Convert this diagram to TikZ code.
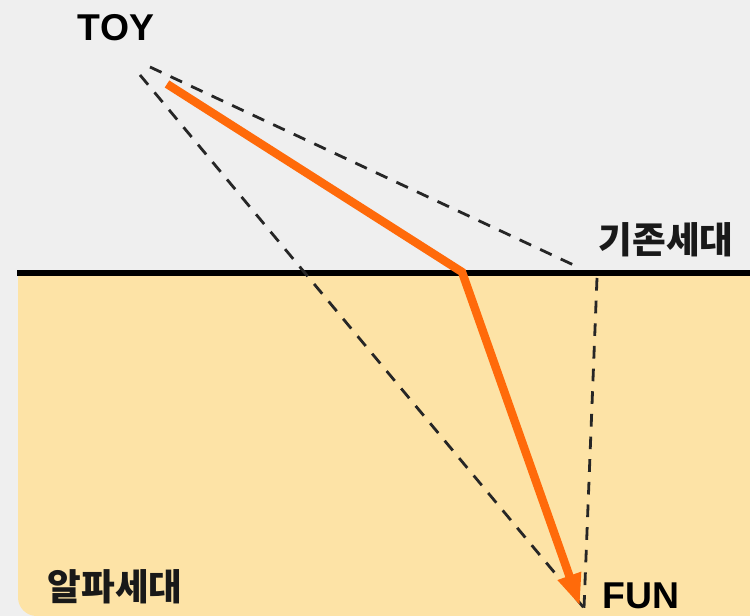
\documentclass[tikz,border=0pt]{standalone}
\usepackage{fontspec}
\setmainfont{Liberation Sans}
\newfontfamily\krfont{Noto Sans CJK KR}
\usetikzlibrary{arrows.meta}
\definecolor{bggray}{HTML}{EFEFEF}
\definecolor{zoneyellow}{HTML}{FDE3A6}
\definecolor{arroworange}{HTML}{FF6A0A}
\tikzset{
  lbl/.style={font=\bfseries\fontsize{28}{30}\selectfont, text=black, inner sep=0pt},
  krlbl/.style={font=\krfont\bfseries\fontsize{27.5}{29}\selectfont, text=black!90, inner sep=0pt},
  guide/.style={draw=black!85, line width=2.1pt, dash pattern=on 9.5pt off 7.5pt},
  path/.style={draw=arroworange, line width=6.3pt, line join=miter},
}
\begin{document}
\begin{tikzpicture}[x=0.75pt,y=-0.75pt]
\useasboundingbox (0,0) rectangle (750,616);
\fill[bggray] (0,0) rectangle (750,616);
\fill[zoneyellow, rounded corners=14] (18,273) -- (18,616) -- (750,616) -- (750,273) -- cycle;
\fill[zoneyellow] (18,273) rectangle (750,560);
\fill[zoneyellow] (700,273) rectangle (750,616);
\draw[line width=5.2pt] (17,273) -- (750,273);

\coordinate (apexA) at (150,67);
\coordinate (apexB) at (140,75);
\coordinate (rimL) at (580,268);
\coordinate (rimR) at (597,278);
\coordinate (bottom) at (584,608);
\coordinate (start) at (167,84);
\coordinate (bend) at (462,272);
\coordinate (tip) at (580,606);

\draw[guide] (apexA) -- (rimL);
\draw[guide] (rimR) -- (bottom);
\draw[guide] (apexB) -- (bottom);

\draw[path, -{Triangle[length=24pt,width=17pt]}] (start) -- (bend) -- (tip);

\node[lbl] (toy) at (116,28) {TOY};
\node[lbl] (fun) at (641,596) {FUN};
\node[krlbl] (old) at (666,240) {기존세대};
\node[krlbl] (alpha) at (115,587) {알파세대};
\end{tikzpicture}
\end{document}
